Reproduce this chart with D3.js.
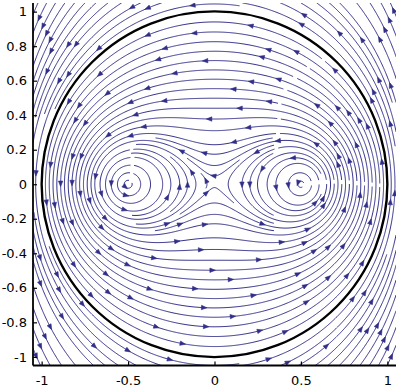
<!DOCTYPE html>
<html><head><meta charset="utf-8">
<script src="https://cdn.jsdelivr.net/npm/d3@7"></script>
<style>body{margin:0;background:#fff}</style>
</head><body><svg id="c" width="400" height="389"></svg>
<script>
// Point vortices (two inside the unit circle plus their images)
const vortexX = [-0.5, 0.5, -2, 2];
const vortexY = [0, 0, 0, 0];
const vortexGamma = [1, 1, -1, -1];
const xDomain = [-1.05, 1.05];
const yDomain = [-1.05, 1.05];
const xTicks = [-1, -0.5, 0, 0.5, 1];
const yTicks = [-1, -0.8, -0.6, -0.4, -0.2, 0, 0.2, 0.4, 0.6, 0.8, 1];
const circleRadius = [1];

const lineColor = "#312e88";
const svg = d3.select('#c');
const x = d3.scaleLinear().domain(xDomain).range([33, 396]);
const y = d3.scaleLinear().domain(yDomain).range([365.5, 3]);
const X0 = x.range()[0], X1 = x.range()[1], Y0 = y.range()[1], Y1 = y.range()[0];
const kx = (X1 - X0) / (xDomain[1] - xDomain[0]), ky = (Y1 - Y0) / (yDomain[1] - yDomain[0]);

function vel(px, py) {
  let u = 0, v = 0;
  for (let k = 0; k < vortexX.length; k++) {
    const dx = px - vortexX[k], dy = py - vortexY[k];
    const r2 = dx * dx + dy * dy;
    u += -vortexGamma[k] * dy / r2;
    v += vortexGamma[k] * dx / r2;
  }
  return [u, v];
}
function dirAt(px, py) {
  const [u, v] = vel(x.invert(px), y.invert(py));
  const su = u * kx, sv = -v * ky;
  const s = Math.hypot(su, sv);
  if (!(s > 1e-9) || !isFinite(s)) return null;
  return [su / s, sv / s];
}
function nearCore(px, py) {
  for (let k = 0; k < vortexX.length; k++) {
    if (Math.hypot(px - x(vortexX[k]), py - y(vortexY[k])) < 2.5) return true;
  }
  return false;
}
function step(p, hs) {
  const k1 = dirAt(p[0], p[1]); if (!k1) return null;
  const k2 = dirAt(p[0] + hs / 2 * k1[0], p[1] + hs / 2 * k1[1]); if (!k2) return null;
  const k3 = dirAt(p[0] + hs / 2 * k2[0], p[1] + hs / 2 * k2[1]); if (!k3) return null;
  const k4 = dirAt(p[0] + hs * k3[0], p[1] + hs * k3[1]); if (!k4) return null;
  return [p[0] + hs / 6 * (k1[0] + 2 * k2[0] + 2 * k3[0] + k4[0]),
          p[1] + hs / 6 * (k1[1] + 2 * k2[1] + 2 * k3[1] + k4[1])];
}
function makeGrid(cs) {
  const m = new Map();
  return {
    add(px, py, e) { const k = Math.floor(px / cs) * 4096 + Math.floor(py / cs); let a = m.get(k); if (!a) { a = []; m.set(k, a); } a.push([px, py, e]); },
    any(px, py, r, pred) {
      const ci = Math.floor(px / cs), cj = Math.floor(py / cs), R = Math.ceil(r / cs);
      for (let i = ci - R; i <= ci + R; i++) for (let j = cj - R; j <= cj + R; j++) {
        const a = m.get(i * 4096 + j); if (!a) continue;
        for (const q of a) { const dx = q[0] - px, dy = q[1] - py; if (dx * dx + dy * dy < r * r && (!pred || pred(q))) return true; }
      }
      return false;
    }
  };
}

// evenly spaced streamlines (Jobard–Lefer) in pixel space
const dsep = 7.6, dtest = 3.6, h = 1, selfArc = 14;
const globalGrid = makeGrid(dsep);
const inside = (p) => p[0] >= X0 && p[0] <= X1 && p[1] >= Y0 && p[1] <= Y1;
function integrateLine(seed) {
  const own = makeGrid(dsep);
  own.add(seed[0], seed[1], 0);
  const fwd = [], bwd = [];
  for (const sgn of [1, -1]) {
    let p = seed, arc = 0; const out = sgn > 0 ? fwd : bwd;
    for (let n = 0; n < 5000; n++) {
      const q = step(p, sgn * h); if (!q) break;
      if (!inside(q)) { out.push(q); break; }
      if (globalGrid.any(q[0], q[1], dtest)) break;
      arc += sgn * h; const a = arc;
      if (own.any(q[0], q[1], dtest, e => Math.abs(e[2] - a) > selfArc)) break;
      if (nearCore(q[0], q[1])) break;
      out.push(q); own.add(q[0], q[1], a); p = q;
    }
  }
  return bwd.reverse().concat([seed], fwd);
}
function validSeed(c) {
  return inside(c) && !globalGrid.any(c[0], c[1], dsep * 0.98) && dirAt(c[0], c[1]) && !nearCore(c[0], c[1]);
}
const linesPx = [];
function addLine(pts) { pts.forEach(p => globalGrid.add(p[0], p[1], 0)); }
// the unit circle is itself a streamline
const circlePts = d3.range(0, 2 * Math.PI, 0.005).map(t => [x(circleRadius[0] * Math.cos(t)), y(circleRadius[0] * Math.sin(t))]);
addLine(circlePts);
const queue = [circlePts];
function processQueue() {
  while (queue.length) {
    const L = queue.shift();
    for (let i = 1; i < L.length - 1; i += 2) {
      const dx = L[i + 1][0] - L[i - 1][0], dy = L[i + 1][1] - L[i - 1][1];
      const n = Math.hypot(dx, dy) || 1;
      for (const s of [1, -1]) {
        const c = [L[i][0] - s * dy / n * dsep, L[i][1] + s * dx / n * dsep];
        if (!validSeed(c)) continue;
        const line = integrateLine(c);
        let len = 0; for (let j = 1; j < line.length; j++) len += Math.hypot(line[j][0] - line[j - 1][0], line[j][1] - line[j - 1][1]);
        if (len < 8) continue;
        addLine(line); linesPx.push(line); queue.push(line);
      }
    }
  }
}
processQueue();
for (let gx = X0 + 2; gx < X1; gx += dsep / 2) for (let gy = Y0 + 2; gy < Y1; gy += dsep / 2) {
  const c = [gx, gy];
  if (!validSeed(c)) continue;
  const line = integrateLine(c);
  let len = 0; for (let j = 1; j < line.length; j++) len += Math.hypot(line[j][0] - line[j - 1][0], line[j][1] - line[j - 1][1]);
  if (len < 8) continue;
  addLine(line); linesPx.push(line); queue.push(line); processQueue();
}
// streamlines in data units
const trajectories = linesPx.map(L => L.map(p => [x.invert(p[0]), y.invert(p[1])]));

svg.append('clipPath').attr('id', 'clip').append('rect')
  .attr('x', X0).attr('y', Y0).attr('width', X1 - X0).attr('height', Y1 - Y0);
const g = svg.append('g').attr('clip-path', 'url(#clip)');
const line = d3.line().x(d => x(d[0])).y(d => y(d[1]));
g.selectAll('path.s').data(trajectories).join('path').attr('class', 's')
  .attr('d', line).attr('fill', 'none').attr('stroke', lineColor).attr('stroke-width', 1);

// arrows spaced along each line (pixel arc length)
const spacing = 105;
const arrows = [];
trajectories.forEach((t, ti) => {
  const P = t.map(d => [x(d[0]), y(d[1])]);
  const s = [0];
  for (let i = 1; i < P.length; i++) s.push(s[i - 1] + Math.hypot(P[i][0] - P[i - 1][0], P[i][1] - P[i - 1][1]));
  const total = s[s.length - 1];
  if (total < 14) return;
  const targets = [];
  if (total < spacing) targets.push(total / 2);
  else { const off = ((ti * 0.618) % 1) * spacing * 0.8 + 8; for (let a = off; a < total - 6; a += spacing) targets.push(a); }
  for (const a of targets) {
    let n = 0; while (n < P.length - 2 && s[n + 1] < a) n++;
    arrows.push([P[n], P[n + 1]]);
  }
});
g.selectAll('path.a').data(arrows).join('path').attr('class', 'a')
  .attr('d', ([p0, p1]) => {
    let dx = p1[0] - p0[0], dy = p1[1] - p0[1]; const L = Math.hypot(dx, dy) || 1; dx /= L; dy /= L;
    const len = 5.5, hw = 2.2;
    const hx = (p0[0] + p1[0]) / 2 + dx * 2.5, hy = (p0[1] + p1[1]) / 2 + dy * 2.5;
    const bx = hx - dx * len, by = hy - dy * len;
    return `M${hx},${hy}L${bx - dy * hw},${by + dx * hw}L${bx + dy * hw},${by - dx * hw}Z`;
  })
  .attr('fill', lineColor).attr('stroke', lineColor).attr('stroke-width', 0.6).attr('stroke-linejoin', 'miter');

// unit circle
g.selectAll('circle.u').data(circleRadius).join('circle').attr('class', 'u')
  .attr('cx', x(0)).attr('cy', y(0)).attr('r', d => x(d) - x(0))
  .attr('fill', 'none').attr('stroke', '#000').attr('stroke-width', 2.4);

// axes
const font = '"DejaVu Sans", Verdana, sans-serif';
const fmt = d => String(d);
const xa = svg.append('g').attr('transform', `translate(0,${Y1})`)
  .call(d3.axisBottom(x).tickValues(xTicks).tickSize(-4).tickPadding(10).tickFormat(fmt));
const ya = svg.append('g').attr('transform', `translate(${X0},0)`)
  .call(d3.axisLeft(y).tickValues(yTicks).tickSize(-4).tickPadding(6).tickFormat(fmt));
for (const a of [xa, ya]) {
  a.select('.domain').attr('stroke', '#000').attr('stroke-width', 1.8);
  a.selectAll('text').attr('font-family', font).attr('font-size', 13).attr('fill', '#000');
  a.selectAll('.tick line').attr('stroke', '#000').attr('stroke-width', 1.2);
}
xa.select('.domain').attr('d', `M${X0},0H${X1}`);
ya.select('.domain').attr('d', `M0,${Y1}V${Y0}`);
</script></body></html>
